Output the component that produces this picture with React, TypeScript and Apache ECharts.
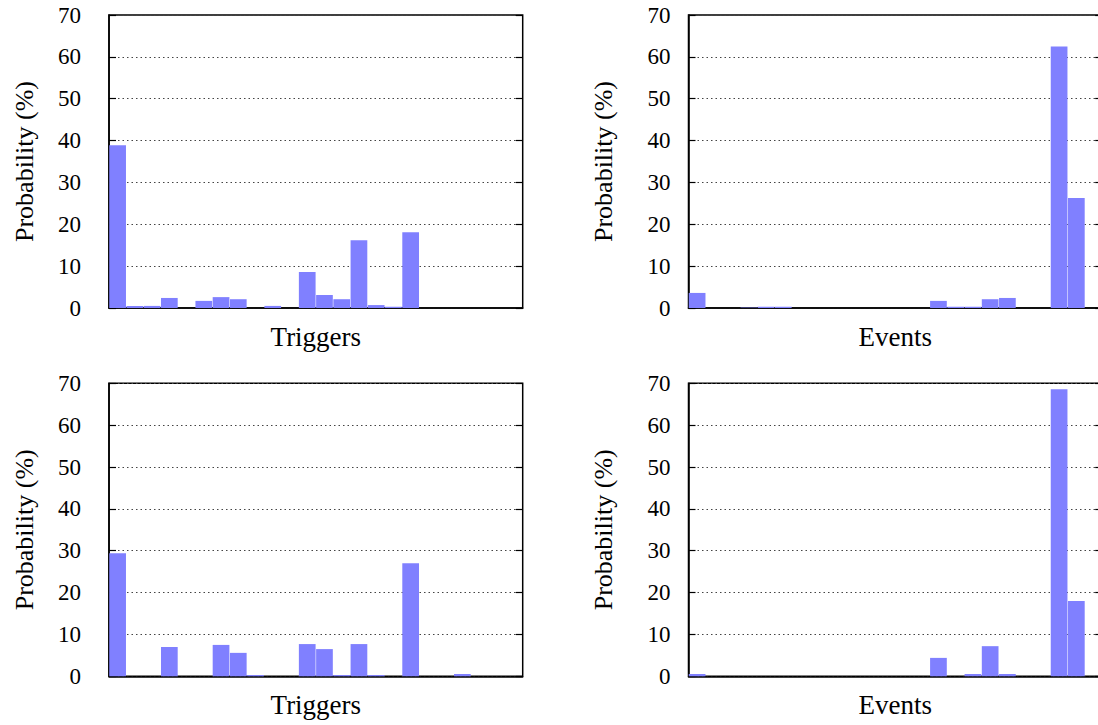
import React, { useEffect, useRef } from "react";
import * as echarts from "echarts";

const categories = Array.from({ length: 24 }, (_, i) => String(i + 1));
const yTicks = [0, 10, 20, 30, 40, 50, 60, 70];

const topTriggers = [38.9, 0.5, 0.5, 2.4, 0, 1.7, 2.6, 2.1, 0, 0.5, 0, 8.6, 3.1, 2.1, 16.2, 0.7, 0.3, 18.1, 0, 0, 0, 0, 0, 0];
const topEvents = [3.6, 0, 0, 0.1, 0.3, 0.3, 0, 0, 0, 0, 0, 0, 0, 0, 1.7, 0.3, 0.3, 2.1, 2.4, 0, 0, 62.5, 26.3, 0];
const bottomTriggers = [29.4, 0, 0, 7.0, 0, 0, 7.5, 5.6, 0.3, 0, 0, 7.7, 6.5, 0.3, 7.7, 0.3, 0, 27.0, 0, 0, 0.55, 0, 0, 0];
const bottomEvents = [0.55, 0, 0, 0, 0, 0, 0, 0, 0, 0, 0, 0, 0, 0, 4.4, 0, 0.55, 7.2, 0.55, 0, 0, 68.6, 18.0, 0];

const panels = [
  { data: topTriggers, xName: "Triggers", left: 109, right: 575.3, top: 15, labelMargin: 28 },
  { data: topEvents, xName: "Events", left: 688.5, right: -4.2, top: 15, labelMargin: 18 },
  { data: bottomTriggers, xName: "Triggers", left: 109, right: 575.3, top: 383.3, labelMargin: 28 },
  { data: bottomEvents, xName: "Events", left: 688.5, right: -4.2, top: 383.3, labelMargin: 18 },
];

const FONT = "Liberation Serif";

export default function App() {
  const ref = useRef<HTMLDivElement>(null);
  useEffect(() => {
    if (!ref.current) return;
    const chart = echarts.init(ref.current, undefined, { renderer: "svg" });
    const H = 293;
    const grid: any[] = [];
    const xAxis: any[] = [];
    const yAxis: any[] = [];
    const series: any[] = [];
    panels.forEach((p, i) => {
      grid.push({
        left: p.left,
        right: p.right,
        top: p.top,
        height: H,
        show: true,
        borderColor: "#000",
        borderWidth: 1.5,
        backgroundColor: "#fff",
        containLabel: false,
        outerBoundsMode: "none",
      });
      xAxis.push({
        type: "category",
        gridIndex: i,
        data: categories,
        name: p.xName,
        nameLocation: "middle",
        nameGap: 15,
        nameTextStyle: { fontFamily: FONT, fontSize: 27, color: "#000" },
        axisLine: { show: true, lineStyle: { color: "#000", width: 1.5 } },
        axisTick: { show: false },
        axisLabel: { show: false },
        splitLine: { show: false },
      });
      yAxis.push({
        type: "value",
        gridIndex: i,
        min: 0,
        max: 70,
        interval: 10,
        name: "Probability (%)",
        nameLocation: "middle",
        nameGap: 72,
        nameTextStyle: { fontFamily: FONT, fontSize: 26, color: "#000" },
        axisLine: { show: true, lineStyle: { color: "#000", width: 1.5 } },
        axisTick: { show: true, inside: true, length: 7, lineStyle: { color: "#000", width: 1.2 } },
        axisLabel: {
          show: true,
          margin: p.labelMargin,
          fontFamily: FONT,
          fontSize: 23,
          color: "#000",
          formatter: (v: number) => (yTicks.includes(v) ? String(v) : ""),
        },
        splitLine: { show: true, lineStyle: { color: "#444", type: [1.5, 3], width: 1 } },
      });
      yAxis.push({
        type: "value",
        gridIndex: i,
        position: "right",
        min: 0,
        max: 70,
        interval: 10,
        axisLine: { show: false },
        axisTick: { show: true, inside: true, length: 7, lineStyle: { color: "#000", width: 1.2 } },
        axisLabel: { show: false },
        splitLine: { show: false },
      });
      series.push({
        type: "bar",
        xAxisIndex: i,
        yAxisIndex: i * 2,
        data: p.data,
        barCategoryGap: "3%",
        itemStyle: { color: "#8080ff" },
      });
    });
    chart.setOption({
      animation: false,
      backgroundColor: "#fff",
      textStyle: { fontFamily: FONT },
      grid,
      xAxis,
      yAxis,
      series,
    });
    return () => chart.dispose();
  }, []);
  return (
    <div
      ref={ref}
      style={{ position: "fixed", left: 0, top: 0, width: 1098, height: 725 }}
    />
  );
}
